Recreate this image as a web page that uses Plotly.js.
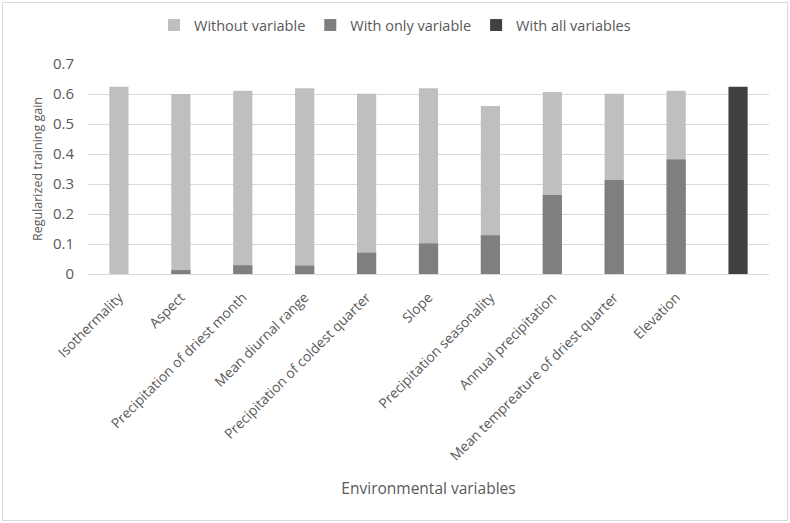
<!DOCTYPE html>
<html>
<head>
<meta charset="utf-8">
<script src="https://cdn.plot.ly/plotly-3.0.1.min.js"></script>
<style>
html,body{margin:0;padding:0;background:#fff;}
#wrap{position:absolute;left:2px;top:2px;width:784px;height:517px;border:1px solid #d9d9d9;}
#chart{position:absolute;left:0;top:0;width:790px;height:523px;}
</style>
</head>
<body>
<div id="chart"></div>
<div id="wrap"></div>
<script>
var categories = ["Isothermality","Aspect","Precipitation of driest month","Mean diurnal range","Precipitation of coldest quarter","Slope","Precipitation seasonality","Annual precipitation","Mean tempreature of driest quarter","Elevation",""];
var withoutVariable = [0.624,0.600,0.611,0.619,0.601,0.619,0.560,0.607,0.601,0.611,null];
var withOnlyVariable = [0.0,0.013,0.029,0.028,0.071,0.102,0.129,0.263,0.313,0.382,null];
var withAllVariables = [null,null,null,null,null,null,null,null,null,null,0.624];
var yTicks = [0,0.1,0.2,0.3,0.4,0.5,0.6,0.7];
var yTickText = ["0","0.1","0.2","0.3","0.4","0.5","0.6","0.7"];

var xs = categories.map(function(c,i){return i;});
var fam = "Open Sans, Liberation Sans, sans-serif";
var col = "#595959";
var line = {width:0};
var traces = [
  {type:"bar", name:"Without variable", x:xs, y:withoutVariable, width:0.31, marker:{color:"#bfbfbf", line:line}},
  {type:"bar", name:"With only variable", x:xs, y:withOnlyVariable, width:0.31, marker:{color:"#7f7f7f", line:line}},
  {type:"bar", name:"With all variables", x:xs, y:withAllVariables, width:0.31, marker:{color:"#404040", line:line}}
];
var layout = {
  width:790, height:523,
  margin:{l:88, r:21, t:64, b:249},
  paper_bgcolor:"#fff", plot_bgcolor:"#fff",
  barmode:"overlay",
  font:{family:fam, size:13, color:col},
  showlegend:true,
  legend:{orientation:"h", xref:"container", x:0.5, xanchor:"center", yref:"container", y:0.952, yanchor:"middle", font:{family:fam, size:14.5, color:col}, itemwidth:30, traceorder:"normal"},
  xaxis:{
    tickmode:"array", tickvals:xs, ticktext:categories, tickangle:-45,
    range:[-0.5,10.5], showgrid:false, zeroline:false,
    showline:true, linecolor:"#d9d9d9", linewidth:1, ticks:"",
    tickfont:{family:fam, size:13.8, color:col}, ticklabelstandoff:9,
    title:{text:"Environmental variables", font:{family:fam, size:15.5, color:col}, standoff:19}
  },
  yaxis:{
    range:[0,0.7], tickmode:"array", tickvals:yTicks, ticktext:yTickText,
    showgrid:true, gridcolor:"#d9d9d9", gridwidth:1, zeroline:false, showline:false,
    ticks:"", tickfont:{family:fam, size:15, color:col}, ticklabelstandoff:13,
    title:{text:"Regularized training gain", font:{family:fam, size:12.5, color:col}, standoff:7}
  }
};
Plotly.newPlot("chart", traces, layout, {displayModeBar:false, staticPlot:true});
</script>
</body>
</html>
